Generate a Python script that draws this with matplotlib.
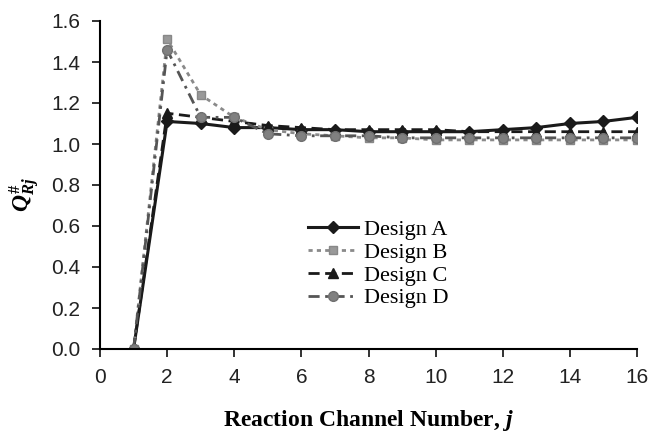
import matplotlib.pyplot as plt

plt.rcParams["mathtext.fontset"] = "custom"
plt.rcParams["mathtext.it"] = "Liberation Serif:bold:italic"
plt.rcParams["mathtext.rm"] = "Liberation Serif:bold"
plt.rcParams["mathtext.bf"] = "Liberation Serif:bold"

channels = list(range(1, 17))
design_a = [0.0, 1.11, 1.10, 1.08, 1.08, 1.07, 1.07, 1.06, 1.06, 1.06, 1.06, 1.07, 1.08, 1.10, 1.11, 1.13]
design_b = [0.0, 1.51, 1.24, 1.13, 1.07, 1.05, 1.04, 1.03, 1.03, 1.02, 1.02, 1.02, 1.02, 1.02, 1.02, 1.02]
design_c = [0.0, 1.15, 1.13, 1.11, 1.09, 1.08, 1.07, 1.07, 1.07, 1.07, 1.06, 1.06, 1.06, 1.06, 1.06, 1.06]
design_d = [0.0, 1.46, 1.13, 1.13, 1.05, 1.04, 1.04, 1.04, 1.03, 1.03, 1.03, 1.03, 1.03, 1.03, 1.03, 1.03]

fig = plt.figure(figsize=(6.51, 4.37), dpi=100)
ax = fig.add_axes([100 / 651, 1 - 349 / 437, 537 / 651, 328 / 437])

ax.plot(channels, design_a, color="#1a1a1a", lw=2.2, marker="D", ms=6, label="Design A")
ax.plot(channels, design_b, color="#8a8a8a", lw=2.0, ls=(0, (1.5, 1.5)), marker="s", ms=6,
        mfc="#999999", mec="#888888", label="Design B")
ax.plot(channels, design_c, color="#1a1a1a", lw=2.0, ls=(0, (4, 2)), marker="^", ms=7,
        label="Design C")
ax.plot(channels, design_d, color="#555555", lw=2.0, ls=(0, (4, 2, 1, 2)), marker="o", ms=7,
        mfc="#808080", mec="#707070", label="Design D")

ax.set_xlim(0, 16)
ax.set_ylim(0, 1.6)
ax.set_xticks(range(0, 17, 2))
ax.set_yticks([i * 0.2 for i in range(9)])
ax.set_yticklabels([f"{i * 0.2:.1f}" for i in range(9)])

for side in ("top", "right"):
    ax.spines[side].set_visible(False)
ax.spines["left"].set_linewidth(1.5)
ax.spines["bottom"].set_linewidth(1.5)
ax.tick_params(direction="out", length=6, width=1.3, labelsize=15, pad=8, colors="#222222",
               labelfontfamily="Liberation Sans")

ax.set_xlabel(r"Reaction Channel Number, $j$", family="Liberation Serif",
              fontweight="bold", fontsize=17, labelpad=15)
ax.set_ylabel(r"$Q_{Rj}^{\#}$", fontsize=17)
ax.yaxis.set_label_coords(-0.108, 0.47)

leg = ax.legend(loc="upper left", bbox_to_anchor=(0.387, 0.395), frameon=False,
                handlelength=2.25, handletextpad=0.3, borderpad=0, borderaxespad=0,
                labelspacing=0.1, prop={"family": "Liberation Serif", "size": 16})

fig.savefig("out.png", dpi=100)
